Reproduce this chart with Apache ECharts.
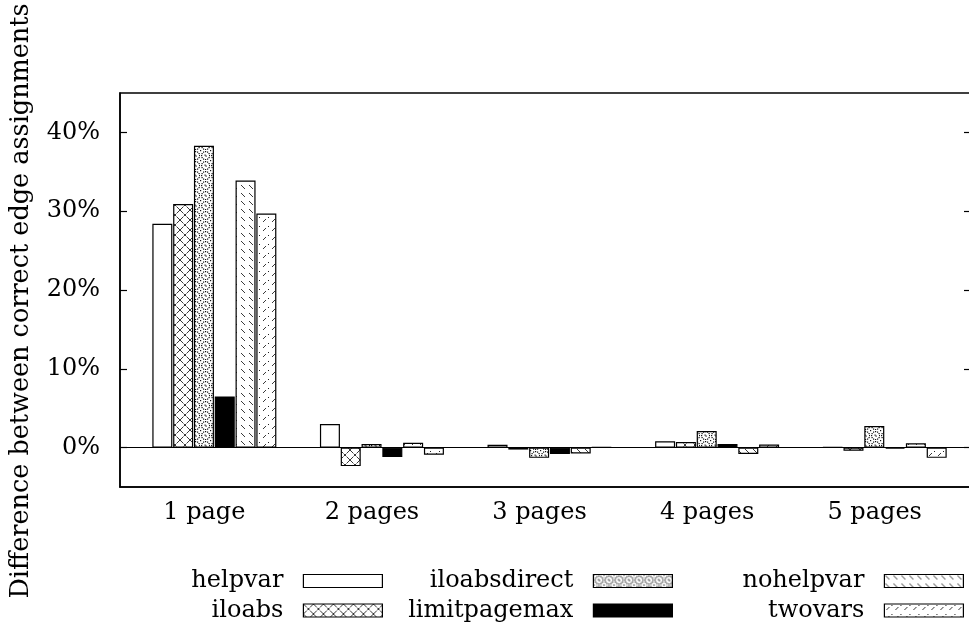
<!DOCTYPE html>
<html>
<head>
<meta charset="utf-8">
<style>
  html, body { margin: 0; padding: 0; background: #fff; }
  #chart { width: 969px; height: 628px; }
</style>
<script src="https://cdn.jsdelivr.net/npm/echarts@6/dist/echarts.min.js"></script>
</head>
<body>
<div id="chart"></div>
<script>
// ---- data ----
const categories = ['1 page', '2 pages', '3 pages', '4 pages', '5 pages'];
const helpvar      = [28.4,  3.0,   0.35,  0.8,   0.05];
const iloabs       = [30.9, -2.35, -0.25,  0.7,  -0.4];
const iloabsdirect = [38.3,  0.45, -1.3,   2.1,   2.75];
const limitpagemax = [6.5,  -1.2,  -0.8,   0.45, -0.15];
const nohelpvar    = [33.9,  0.6,  -0.75, -0.8,   0.55];
const twovars      = [29.7, -0.9,   0.05,  0.4,  -1.3];
const yTicks = [0, 10, 20, 30, 40];

// ---- patterns ----
function tile(w, h, draw) {
  const c = document.createElement('canvas');
  c.width = w; c.height = h;
  const ctx = c.getContext('2d');
  ctx.fillStyle = '#fff';
  ctx.fillRect(0, 0, w, h);
  draw(ctx);
  return { image: c, repeat: 'repeat' };
}
const patHelp = '#ffffff';
const patIloabs = tile(10, 10, ctx => {
  ctx.strokeStyle = '#222'; ctx.lineWidth = 0.9;
  ctx.beginPath();
  ctx.moveTo(0, 0); ctx.lineTo(3.5, 3.5);
  ctx.moveTo(6.5, 6.5); ctx.lineTo(10, 10);
  ctx.moveTo(10, 0); ctx.lineTo(6.5, 3.5);
  ctx.moveTo(3.5, 6.5); ctx.lineTo(0, 10);
  ctx.moveTo(4, 4); ctx.lineTo(6, 6);
  ctx.moveTo(6, 4); ctx.lineTo(4, 6);
  ctx.stroke();
});
const patDirect = tile(10, 10, ctx => {
  ctx.fillStyle = '#111';
  const pts = [[5,1],[7,1.5],[8.5,3],[9,5],[8.5,7],[7,8.5],[5,9],[3,8.5],[1.5,7],[1,5],[1.5,3],[3,1.5],[0,0],[4.5,4.5],[5.5,5.5]];
  pts.forEach(p => { ctx.fillRect(p[0], p[1], 1.2, 1.2); });
});
const patLimit = '#000000';
const patNohelp = tile(8, 8, ctx => {
  ctx.strokeStyle = '#222'; ctx.lineWidth = 0.9;
  ctx.beginPath();
  ctx.moveTo(1, 1); ctx.lineTo(5, 5);
  ctx.stroke();
});
const patTwo = tile(9, 9, ctx => {
  ctx.strokeStyle = '#222'; ctx.lineWidth = 0.9;
  ctx.beginPath();
  ctx.moveTo(2, 6); ctx.lineTo(5, 3);
  ctx.stroke();
  ctx.fillStyle = '#222';
  ctx.fillRect(7, 1, 1, 1);
});

const FONT = 'DejaVu Serif';
const seriesDefs = [
  ['helpvar', helpvar, patHelp],
  ['iloabs', iloabs, patIloabs],
  ['iloabsdirect', iloabsdirect, patDirect],
  ['limitpagemax', limitpagemax, patLimit],
  ['nohelpvar', nohelpvar, patNohelp],
  ['twovars', twovars, patTwo]
];

const series = seriesDefs.map((d, k) => {
  const s = {
    name: d[0],
    type: 'bar',
    xAxisIndex: 0,
    yAxisIndex: 0,
    barWidth: 20,
    barGap: '4%',
    data: d[1].map((v, i) => [i, v]),
    itemStyle: { color: d[2], borderColor: '#000', borderWidth: 1.2 },
    emphasis: { disabled: true },
    animation: false
  };
  if (k === 0) {
    s.markLine = {
      silent: true, symbol: 'none', animation: false,
      label: { show: false },
      lineStyle: { color: '#000', width: 1.2, type: 'solid' },
      data: [{ yAxis: 0 }]
    };
  }
  return s;
});

const legendCommon = {
  orient: 'vertical',
  align: 'right',
  icon: 'rect',
  itemWidth: 79,
  itemHeight: 13,
  itemGap: 5.5,
  top: 569,
  padding: 0,
  selectedMode: false,
  itemStyle: { borderColor: '#000', borderWidth: 1.2 },
  textStyle: { fontFamily: FONT, fontSize: 24, color: '#000', lineHeight: 24, padding: [0, 15, 0, 0] }
};

const chart = echarts.init(document.getElementById('chart'), null, { renderer: 'canvas' });
chart.setOption({
  backgroundColor: '#fff',
  animation: false,
  grid: {
    left: 120, right: -2, top: 93, bottom: 141,
    show: true, borderColor: '#000', borderWidth: 1.5,
    outerBoundsMode: 'none', containLabel: false
  },
  legend: [
    Object.assign({}, legendCommon, { right: 586, data: ['helpvar', 'iloabs'] }),
    Object.assign({}, legendCommon, { right: 296, data: ['iloabsdirect', 'limitpagemax'] }),
    Object.assign({}, legendCommon, { right: 5, data: ['nohelpvar', 'twovars'] })
  ],
  xAxis: [{
    type: 'value',
    min: -0.563, max: 4.515,
    splitLine: { show: false },
    axisLine: { show: true, onZero: false, lineStyle: { color: '#000', width: 1.5 } },
    axisTick: { show: false },
    axisLabel: {
      customValues: [0, 1, 2, 3, 4],
      formatter: v => categories[Math.round(v)] || '',
      fontFamily: FONT, fontSize: 24, color: '#000',
      margin: 14,
      padding: [0, 20, 0, 0]
    }
  }],
  yAxis: [{
    type: 'value',
    min: -5, max: 45,
    position: 'left',
    splitLine: { show: false },
    axisLine: { show: true, onZero: false, lineStyle: { color: '#000', width: 1.5 } },
    axisTick: { show: true, inside: true, length: 7, customValues: yTicks, lineStyle: { color: '#000', width: 1.2 } },
    axisLabel: {
      customValues: yTicks,
      formatter: v => v + '%',
      fontFamily: FONT, fontSize: 24, color: '#000',
      margin: 20
    },
    name: 'Difference between correct edge assignments',
    nameLocation: 'middle',
    nameRotate: 90,
    nameGap: 86,
    nameTextStyle: { fontFamily: FONT, fontSize: 25.5, color: '#000', padding: [0, 22, 0, 0] }
  }, {
    type: 'value',
    min: -5, max: 45,
    position: 'right',
    splitLine: { show: false },
    axisLine: { show: true, onZero: false, lineStyle: { color: '#000', width: 1.5 } },
    axisTick: { show: true, inside: true, length: 7, customValues: yTicks, lineStyle: { color: '#000', width: 1.2 } },
    axisLabel: { show: false }
  }],
  series: series
});
</script>
</body>
</html>
